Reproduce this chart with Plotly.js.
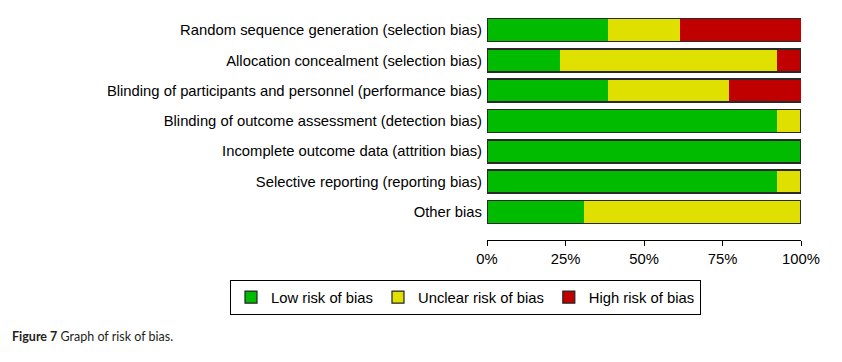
<!DOCTYPE html>
<html><head><meta charset="utf-8">
<script src="https://cdn.plot.ly/plotly-3.0.1.min.js"></script>
<style>body{margin:0;background:#fff}#chart{width:842px;height:362px}</style>
</head><body><div id="chart"></div>
<script>
const categories = [
  "Random sequence generation (selection bias)",
  "Allocation concealment (selection bias)",
  "Blinding of participants and personnel (performance bias)",
  "Blinding of outcome assessment (detection bias)",
  "Incomplete outcome data (attrition bias)",
  "Selective reporting (reporting bias)",
  "Other bias"
];
const lowRisk = [38.5, 23.1, 38.5, 92.3, 100, 92.3, 30.8];
const unclearRisk = [23.1, 69.2, 38.5, 7.7, 0, 7.7, 69.2];
const highRisk = [38.5, 7.7, 23.1, 0, 0, 0, 0];
const seriesNames = ["Low risk of bias", "Unclear risk of bias", "High risk of bias"];
const seriesColors = ["#00bb00", "#e0e000", "#c00000"];
const tickVals = [0, 25, 50, 75, 100];
const tickText = ["0%", "25%", "50%", "75%", "100%"];
const totals = categories.map((c, i) => lowRisk[i] + unclearRisk[i] + highRisk[i]);

const W = 0.76;
const seriesVals = [lowRisk, unclearRisk, highRisk];
const traces = [];
seriesVals.forEach((vals, k) => {
  traces.push({type:'bar', orientation:'h', name:seriesNames[k], x:vals, y:categories, width:W,
    showlegend:false, marker:{color:seriesColors[k], line:{width:0}}, hoverinfo:'skip'});
});
// outline around each whole bar
traces.push({type:'bar', orientation:'h', x:totals, y:categories, width:W, xaxis:'x2', showlegend:false,
   marker:{color:'rgba(0,0,0,0)', line:{color:'#2a2a2a', width:1.6}}, hoverinfo:'skip'});
// legend entries (outlined squares)
seriesNames.forEach((n, k) => {
  traces.push({type:'bar', orientation:'h', name:n, x:[null], y:[null], xaxis:'x2', showlegend:true,
    marker:{color:seriesColors[k], line:{color:'#222', width:1.2}}, hoverinfo:'skip'});
});
const layout = {
  width:842, height:362,
  margin:{l:487, r:41, t:15, b:122},
  paper_bgcolor:'#fff', plot_bgcolor:'#fff',
  barmode:'stack',
  font:{family:'Liberation Sans, Arial, sans-serif', size:14.8, color:'#000'},
  xaxis:{range:[0,100], tickvals:tickVals, ticktext:tickText, showgrid:false, zeroline:false,
    showline:true, linecolor:'#000', linewidth:1, ticks:'outside', ticklen:5, tickcolor:'#000',
    tickfont:{size:14.8}, fixedrange:true},
  xaxis2:{range:[0,100], overlaying:'x', visible:false},
  yaxis:{type:'category', range:[6.93,-0.5], showgrid:false, zeroline:false, showline:false,
    ticks:'', ticklabelstandoff:4, tickfont:{size:14.8}},
  showlegend:true,
  legend:{orientation:'h', x:(230-487)/314, xanchor:'left',
    y:(240-280)/225, yanchor:'top',
    bordercolor:'#000', borderwidth:1, font:{size:14.8}, traceorder:'normal',
    itemwidth:30, tracegroupgap:0},
  annotations:[{xref:'paper', yref:'paper', x:-1.52, y:-0.431, xanchor:'left', yanchor:'middle',
    showarrow:false, align:'left',
    text:'<b>Figure 7</b> Graph of risk of bias.',
    font:{family:'Lato, Open Sans, sans-serif', size:12.5, color:'#231f20'}}]
};
Plotly.newPlot('chart', traces, layout, {displayModeBar:false, staticPlot:true});
</script></body></html>
